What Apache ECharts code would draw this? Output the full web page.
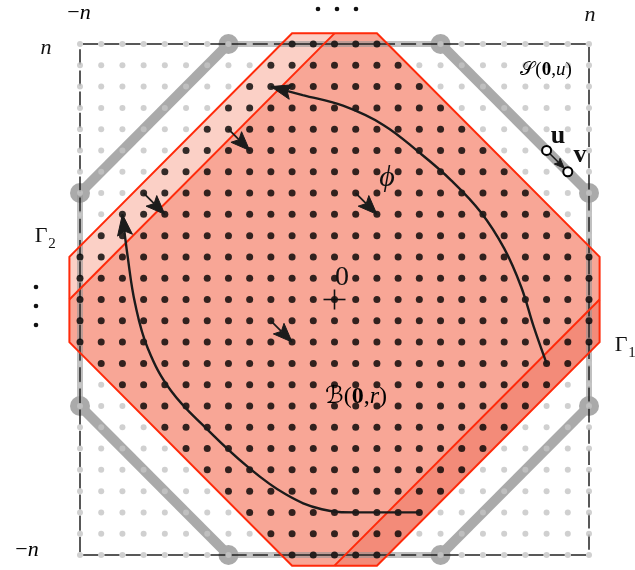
<!DOCTYPE html>
<html>
<head>
<meta charset="utf-8">
<script src="https://cdn.jsdelivr.net/npm/echarts@6/dist/echarts.min.js"></script>
<style>
  html, body { margin: 0; padding: 0; background: #fff; }
  #chart { width: 635px; height: 570px; }
</style>
</head>
<body>
<div id="chart"></div>
<script>
// lattice coordinates, n = 12
const ticks = [-12, -11, -10, -9, -8, -7, -6, -5, -4, -3, -2, -1, 0, 1, 2, 3, 4, 5, 6, 7, 8, 9, 10, 11, 12];

// B(0,r) octagon, split by the two cut lines
const lightBand = [[-12.5, 0], [-12.5, 2], [-2, 12.5], [0, 12.5]];
const bodyPoly = [[0, 12.5], [2, 12.5], [12.5, 2], [12.5, 0], [0, -12.5], [-2, -12.5], [-12.5, -2], [-12.5, 0]];
const darkBand = [[12.5, 0], [12.5, -2], [2, -12.5], [0, -12.5]];
const outerOct = [[-2, 12.5], [2, 12.5], [12.5, 2], [12.5, -2], [2, -12.5], [-2, -12.5], [-12.5, -2], [-12.5, 2]];
const cutLines = [[[-12.5, 0], [0, 12.5]], [[12.5, 0], [0, -12.5]]];

// S(0,u) boundary
const sDiag = [[[-12, 5], [-5, 12]], [[5, 12], [12, 5]], [[12, -5], [5, -12]], [[-5, -12], [-12, -5]]];
const sEdge = [[[-5, 12], [5, 12]], [[12, 5], [12, -5]], [[5, -12], [-5, -12]], [[-12, -5], [-12, 5]]];
const boxEdges = [[[-12, 12], [12, 12]], [[12, 12], [12, -12]], [[12, -12], [-12, -12]], [[-12, -12], [-12, 12]]];

// paths of phi
const curveIn = [[4, -10], [1, -10], [-0.6, -9.85], [-2.3, -9.15], [-4.1, -7.85], [-6, -6.1], [-7.7, -4.3], [-8.8, -2.3], [-9.4, -0.2], [-9.75, 2], [-10, 4]];
const curveOut = [[10, -3], [9.4, -1.3], [8.8, 0.6], [8.0, 2.4], [6.9, 4.1], [5.5, 5.6], [4, 6.9], [2.3, 8.2], [0.4, 9.1], [-1.5, 9.6], [-3, 10]];

// small arrows of the field
const smallArrows = [[[-5, 8], [-4, 7]], [[-9, 5], [-8, 4]], [[1, 5], [2, 4]], [[-3, -1], [-2, -2]]];
const uvPoints = [[10, 7], [11, 6]];
const origin = [0, 0];

function inOct(x, y) {
  return Math.abs(x) <= 12.5 && Math.abs(y) <= 12.5 && Math.abs(x) + Math.abs(y) <= 14.5;
}

let blackDots = [];
let grayDots = [];
ticks.forEach(x => {
  ticks.forEach(y => {
    if (inOct(x, y)) blackDots.push([x, y]);
    else grayDots.push([x, y]);
  });
});

const INK = '#1b1b1b';
const RED = '#ff2a0a';
const SERIF = 'Liberation Serif';

function headPoly(q, ux, uy, len, wid) {
  const nx = -uy, ny = ux;
  const bx = q[0] - ux * len, by = q[1] - uy * len;
  const mx = q[0] - ux * len * 0.8, my = q[1] - uy * len * 0.8;
  return {
    poly: [q, [bx + nx * wid / 2, by + ny * wid / 2], [mx, my], [bx - nx * wid / 2, by - ny * wid / 2]],
    notch: [mx, my]
  };
}

function arrowGroup(p, q, len, wid, lw) {
  const dx = q[0] - p[0], dy = q[1] - p[1];
  const L = Math.hypot(dx, dy);
  const h = headPoly(q, dx / L, dy / L, len, wid);
  return {
    type: 'group',
    children: [
      { type: 'line', shape: { x1: p[0], y1: p[1], x2: h.notch[0], y2: h.notch[1] }, style: { stroke: INK, lineWidth: lw } },
      { type: 'polygon', shape: { points: h.poly }, style: { fill: INK, stroke: INK, lineWidth: 1, lineJoin: 'round' } }
    ]
  };
}

const fills = [
  { poly: lightBand, color: '#fbd0c6' },
  { poly: bodyPoly, color: '#f8a696' },
  { poly: darkBand, color: '#f38b79' }
];

const chart = echarts.init(document.getElementById('chart'));

const option = {
  animation: false,
  backgroundColor: '#fff',
  grid: { left: 80, top: 44, width: 509, height: 511 },
  xAxis: { type: 'value', min: -12, max: 12, show: false },
  yAxis: { type: 'value', min: -12, max: 12, show: false },
  series: [
    {
      // octagon fills
      type: 'custom', z: 1, silent: true,
      data: fills.map(() => [0, 0]),
      renderItem(params, api) {
        const f = fills[params.dataIndex];
        return { type: 'polygon', shape: { points: f.poly.map(p => api.coord(p)) }, style: { fill: f.color } };
      }
    },
    {
      // S(0,u)
      type: 'custom', z: 2, silent: true,
      data: sDiag.map(() => [0, 0]),
      renderItem(params, api) {
        const d = sDiag[params.dataIndex].map(p => api.coord(p));
        const e = sEdge[params.dataIndex].map(p => api.coord(p));
        return {
          type: 'group',
          children: [
            { type: 'line', shape: { x1: e[0][0], y1: e[0][1], x2: e[1][0], y2: e[1][1] }, style: { stroke: 'rgba(150,150,150,0.6)', lineWidth: 6 } },
            { type: 'line', shape: { x1: d[0][0], y1: d[0][1], x2: d[1][0], y2: d[1][1] }, style: { stroke: '#aaaaaa', lineWidth: 10 } },
            { type: 'circle', shape: { cx: d[0][0], cy: d[0][1], r: 10 }, style: { fill: '#aaaaaa' } },
            { type: 'circle', shape: { cx: d[1][0], cy: d[1][1], r: 10 }, style: { fill: '#aaaaaa' } }
          ]
        };
      }
    },
    {
      // dashed box
      type: 'custom', z: 3, silent: true,
      data: boxEdges.map(() => [0, 0]),
      renderItem(params, api) {
        const e = boxEdges[params.dataIndex].map(p => api.coord(p));
        return {
          type: 'line',
          shape: { x1: e[0][0], y1: e[0][1], x2: e[1][0], y2: e[1][1] },
          style: { stroke: '#222', lineWidth: 1.5, lineDash: [15.2, 6], lineDashOffset: 18.2 }
        };
      }
    },
    {
      // red outlines
      type: 'custom', z: 4, silent: true,
      data: [[0, 0], [0, 0], [0, 0]],
      renderItem(params, api) {
        if (params.dataIndex === 0) {
          return { type: 'polygon', shape: { points: outerOct.map(p => api.coord(p)) }, style: { fill: 'none', stroke: RED, lineWidth: 2 } };
        }
        const c = cutLines[params.dataIndex - 1].map(p => api.coord(p));
        return { type: 'line', shape: { x1: c[0][0], y1: c[0][1], x2: c[1][0], y2: c[1][1] }, style: { stroke: RED, lineWidth: 2 } };
      }
    },
    {
      type: 'scatter', z: 5, silent: true, symbol: 'circle', symbolSize: 6,
      itemStyle: { color: '#c4c4c4' },
      data: grayDots
    },
    {
      type: 'scatter', z: 5, silent: true, symbol: 'circle', symbolSize: 7,
      itemStyle: { color: '#000' },
      data: blackDots
    },
    {
      type: 'line', z: 6, silent: true, smooth: 0.4, showSymbol: false, symbol: 'none',
      lineStyle: { color: INK, width: 2.4 },
      data: curveIn
    },
    {
      type: 'line', z: 6, silent: true, smooth: 0.4, showSymbol: false, symbol: 'none',
      lineStyle: { color: INK, width: 2.4 },
      data: curveOut
    },
    {
      // curve arrowheads
      type: 'custom', z: 7, silent: true,
      data: [[0, 0], [0, 0]],
      renderItem(params, api) {
        const c = params.dataIndex === 0 ? curveIn : curveOut;
        const q = api.coord(c[c.length - 1]);
        const p = api.coord(c[c.length - 2]);
        const dx = q[0] - p[0], dy = q[1] - p[1];
        const L = Math.hypot(dx, dy);
        const h = headPoly(q, dx / L, dy / L, 21, 15);
        return { type: 'polygon', shape: { points: h.poly }, style: { fill: INK, stroke: INK, lineWidth: 1, lineJoin: 'round' } };
      }
    },
    {
      // small field arrows
      type: 'custom', z: 7, silent: true,
      data: smallArrows.map(() => [0, 0]),
      renderItem(params, api) {
        const a = smallArrows[params.dataIndex];
        return arrowGroup(api.coord(a[0]), api.coord(a[1]), 19, 15, 1.8);
      }
    },
    {
      // u -> v and origin cross
      type: 'custom', z: 8, silent: true,
      data: [[0, 0]],
      renderItem(params, api) {
        const u = api.coord(uvPoints[0]);
        const v = api.coord(uvPoints[1]);
        const o = api.coord(origin);
        const dx = v[0] - u[0], dy = v[1] - u[1];
        const L = Math.hypot(dx, dy);
        const ux = dx / L, uy = dy / L;
        const a = arrowGroup([u[0] + ux * 5, u[1] + uy * 5], [v[0] - ux * 5, v[1] - uy * 5], 10, 8, 1.6);
        return {
          type: 'group',
          children: [
            a,
            { type: 'circle', shape: { cx: u[0], cy: u[1], r: 4.5 }, style: { fill: '#fff', stroke: '#000', lineWidth: 2 } },
            { type: 'circle', shape: { cx: v[0], cy: v[1], r: 4.5 }, style: { fill: '#fff', stroke: '#000', lineWidth: 2 } },
            { type: 'line', shape: { x1: o[0] - 11, y1: o[1], x2: o[0] + 11, y2: o[1] }, style: { stroke: '#111', lineWidth: 1.6 } },
            { type: 'line', shape: { x1: o[0], y1: o[1] - 10, x2: o[0], y2: o[1] + 10 }, style: { stroke: '#111', lineWidth: 1.6 } }
          ]
        };
      }
    }
  ],
  graphic: [
    { type: 'text', x: 79, y: 13, z: 100, style: { text: '{m|−}{i|n}', align: 'center', verticalAlign: 'middle', rich: { m: { fontSize: 22, fontFamily: SERIF }, i: { fontSize: 22, fontFamily: SERIF, fontStyle: 'italic' } } } },
    { type: 'text', x: 590, y: 15, z: 100, style: { text: 'n', fontSize: 22, fontFamily: SERIF, fontStyle: 'italic', fill: '#111', align: 'center', verticalAlign: 'middle' } },
    { type: 'text', x: 46, y: 48, z: 100, style: { text: 'n', fontSize: 22, fontFamily: SERIF, fontStyle: 'italic', fill: '#111', align: 'center', verticalAlign: 'middle' } },
    { type: 'text', x: 27, y: 550, z: 100, style: { text: '{m|−}{i|n}', align: 'center', verticalAlign: 'middle', rich: { m: { fontSize: 22, fontFamily: SERIF }, i: { fontSize: 22, fontFamily: SERIF, fontStyle: 'italic' } } } },
    { type: 'circle', z: 100, shape: { cx: 318, cy: 9, r: 2.3 }, style: { fill: '#111' } },
    { type: 'circle', z: 100, shape: { cx: 337, cy: 9, r: 2.3 }, style: { fill: '#111' } },
    { type: 'circle', z: 100, shape: { cx: 356, cy: 9, r: 2.3 }, style: { fill: '#111' } },
    { type: 'circle', z: 100, shape: { cx: 36, cy: 287, r: 2.3 }, style: { fill: '#111' } },
    { type: 'circle', z: 100, shape: { cx: 36, cy: 306, r: 2.3 }, style: { fill: '#111' } },
    { type: 'circle', z: 100, shape: { cx: 36, cy: 325, r: 2.3 }, style: { fill: '#111' } },
    { type: 'text', x: 41, y: 236, z: 100, style: { text: 'Γ', fontSize: 22, fontFamily: SERIF, fill: '#111', align: 'center', verticalAlign: 'middle' } },
    { type: 'text', x: 52, y: 244, z: 100, style: { text: '2', fontSize: 15, fontFamily: SERIF, fill: '#111', align: 'center', verticalAlign: 'middle' } },
    { type: 'text', x: 621, y: 345, z: 100, style: { text: 'Γ', fontSize: 22, fontFamily: SERIF, fill: '#111', align: 'center', verticalAlign: 'middle' } },
    { type: 'text', x: 632, y: 353, z: 100, style: { text: '1', fontSize: 15, fontFamily: SERIF, fill: '#111', align: 'center', verticalAlign: 'middle' } },
    { type: 'text', x: 546, y: 70, z: 100, style: { text: '{c|𝒮}{n|(}{b|0}{n|,}{i|u}{n|)}', align: 'center', verticalAlign: 'middle', rich: { c: { fontSize: 19, fontFamily: 'DejaVu Sans' }, n: { fontSize: 19, fontFamily: SERIF }, b: { fontSize: 19, fontFamily: SERIF, fontWeight: 'bold' }, i: { fontSize: 19, fontFamily: SERIF, fontStyle: 'italic' } } } },
    { type: 'text', x: 558, y: 136, z: 100, style: { text: 'u', fontSize: 26, fontFamily: SERIF, fontWeight: 'bold', fill: '#111', align: 'center', verticalAlign: 'middle' } },
    { type: 'text', x: 580, y: 155, z: 100, style: { text: 'v', fontSize: 26, fontFamily: SERIF, fontWeight: 'bold', fill: '#111', align: 'center', verticalAlign: 'middle' } },
    { type: 'text', x: 387, y: 178, z: 100, style: { text: 'ϕ', fontSize: 30, fontFamily: SERIF, fontStyle: 'italic', fill: '#111', align: 'center', verticalAlign: 'middle' } },
    { type: 'text', x: 342, y: 278, z: 100, style: { text: '0', fontSize: 28, fontFamily: SERIF, fill: '#111', align: 'center', verticalAlign: 'middle' } },
    { type: 'text', x: 356, y: 397, z: 100, style: { text: '{c|ℬ}{n|(}{b|0}{n|,}{i|r}{n|)}', align: 'center', verticalAlign: 'middle', rich: { c: { fontSize: 24, fontFamily: 'DejaVu Sans' }, n: { fontSize: 24, fontFamily: SERIF }, b: { fontSize: 24, fontFamily: SERIF, fontWeight: 'bold' }, i: { fontSize: 24, fontFamily: SERIF, fontStyle: 'italic' } } } }
  ]
};

chart.setOption(option);
</script>
</body>
</html>
